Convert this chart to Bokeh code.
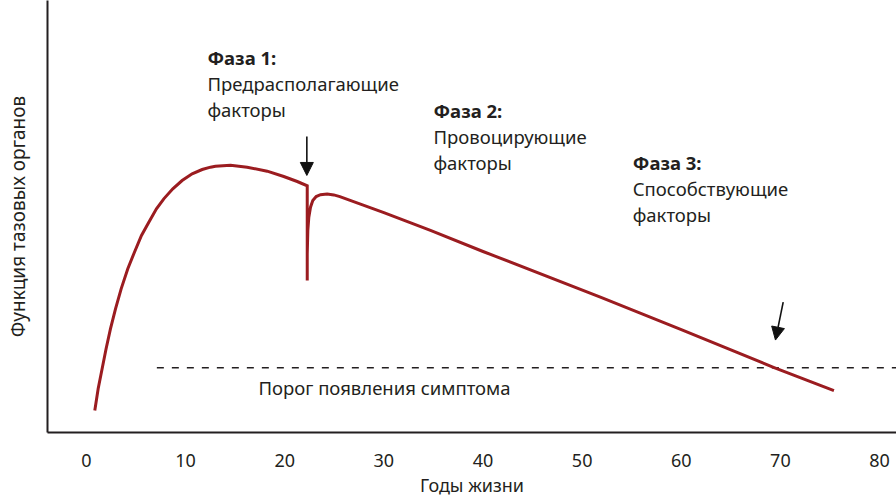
from bokeh.plotting import figure
from bokeh.models import Range1d, FixedTicker, Arrow, NormalHead
from bokeh.core.properties import value
from bokeh.embed import file_html
from bokeh.resources import INLINE

# ---- data ----
ages = [0.84, 1.18, 1.58, 1.98, 2.42, 2.93, 3.50, 4.17, 4.84, 5.55, 6.29, 7.06,
        7.80, 8.71, 9.65, 10.66, 11.67, 12.51, 13.01, 14.53, 16.21, 18.23,
        19.9, 21.26, 22.27, 22.27, 22.27, 22.33, 22.43, 22.6, 22.83, 23.17,
        23.61, 24.28, 24.95, 25.56, 30.0, 34.7, 40.0, 51.9, 60.0, 69.3, 75.4]
function = [5.09, 10.11, 14.74, 19.37, 24.0, 28.63, 33.26, 37.89, 41.74, 45.6,
            48.69, 51.77, 54.09, 56.40, 58.33, 59.88, 60.88, 61.42, 61.65, 61.88,
            61.41, 60.49, 59.26, 58.1, 57.1, 35.2, 41.4, 46.76, 49.85, 52.16,
            53.7, 54.63, 55.05, 55.2, 55.0, 54.6, 50.9, 46.8, 41.9, 31.3,
            23.8, 15.1, 9.7]

threshold_level = 15.0
threshold_start = 7.1
threshold_label = "Порог появления симптома"

x_ticks = [0, 10, 20, 30, 40, 50, 60, 70, 80]

phase_titles = ["Фаза 1:", "Фаза 2:", "Фаза 3:"]
phase_lines1 = ["Предрасполагающие", "Провоцирующие", "Способствующие"]
phase_lines2 = ["факторы", "факторы", "факторы"]

x_label = "Годы жизни"
y_label = "Функция тазовых органов"

# annotation placement (data units)
phase_x = [12.2, 35.0, 55.1]
phase_y_title = [86.8, 74.5, 62.5]
line_gap = 6.0
arrows = [(22.23, 68.5, 22.23, 59.5), (70.28, 30.2, 69.5, 21.4)]

FONT = "Noto Sans"
TXT = "#231f20"
RED = "#9b1c20"
FS = "18px"
FS_NOTE = "18.5px"

p = figure(width=896, height=499, output_backend="svg", toolbar_location=None,
           x_range=Range1d(-3.93, 81.71), y_range=Range1d(0, 100),
           min_border_left=47, min_border_right=0, min_border_top=0,
           min_border_bottom=67)
p.outline_line_color = None
p.xgrid.visible = False
p.ygrid.visible = False
p.background_fill_color = "white"
p.border_fill_color = "white"

xa = p.xaxis[0]
xa.ticker = FixedTicker(ticks=x_ticks)
xa.major_tick_line_color = None
xa.minor_tick_line_color = None
xa.major_tick_out = 0
xa.major_tick_in = 0
xa.axis_line_color = TXT
xa.axis_line_width = 2
xa.major_label_text_font = FONT
xa.major_label_text_font_size = FS
xa.major_label_text_color = TXT
xa.major_label_standoff = 21
xa.axis_label = x_label
xa.axis_label_text_font = FONT
xa.axis_label_text_font_size = FS
xa.axis_label_text_font_style = "normal"
xa.axis_label_text_color = TXT
xa.axis_label_standoff = 3

ya = p.yaxis[0]
ya.ticker = FixedTicker(ticks=[])
ya.major_tick_line_color = None
ya.minor_tick_line_color = None
ya.major_tick_out = 0
ya.major_tick_in = 0
ya.axis_line_color = TXT
ya.axis_line_width = 2
ya.axis_label = y_label
ya.axis_label_text_font = FONT
ya.axis_label_text_font_size = "19px"
ya.axis_label_text_font_style = "normal"
ya.axis_label_text_color = TXT
ya.axis_label_standoff = 17

# threshold
p.line([threshold_start, 81.71], [threshold_level, threshold_level],
       line_color=TXT, line_width=1.6, line_dash="7 8")
p.text(x=[17.35], y=[10.4], text=[threshold_label], text_font=value(FONT),
       text_font_size=FS_NOTE, text_color=TXT, text_baseline="middle", text_align="left")

# curve
p.line(ages, function, line_color=RED, line_width=3, line_join="miter")

# phase texts
p.text(x=phase_x, y=phase_y_title, text=phase_titles, text_font=value(FONT),
       text_font_size=FS_NOTE, text_font_style="bold", text_color=TXT,
       text_baseline="middle", text_align="left")
p.text(x=phase_x, y=[v - line_gap for v in phase_y_title], text=phase_lines1,
       text_font=value(FONT), text_font_size=FS_NOTE, text_color=TXT,
       text_baseline="middle", text_align="left")
p.text(x=phase_x, y=[v - 2 * line_gap for v in phase_y_title], text=phase_lines2,
       text_font=value(FONT), text_font_size=FS_NOTE, text_color=TXT,
       text_baseline="middle", text_align="left")

for (xs, ys, xe, ye) in arrows:
    p.add_layout(Arrow(x_start=xs, y_start=ys, x_end=xe, y_end=ye,
                       line_color="#111111", line_width=1.6,
                       end=NormalHead(size=13, fill_color="#111111",
                                      line_color="#111111", line_width=1)))

open("out.html", "w").write(file_html(p, INLINE))
